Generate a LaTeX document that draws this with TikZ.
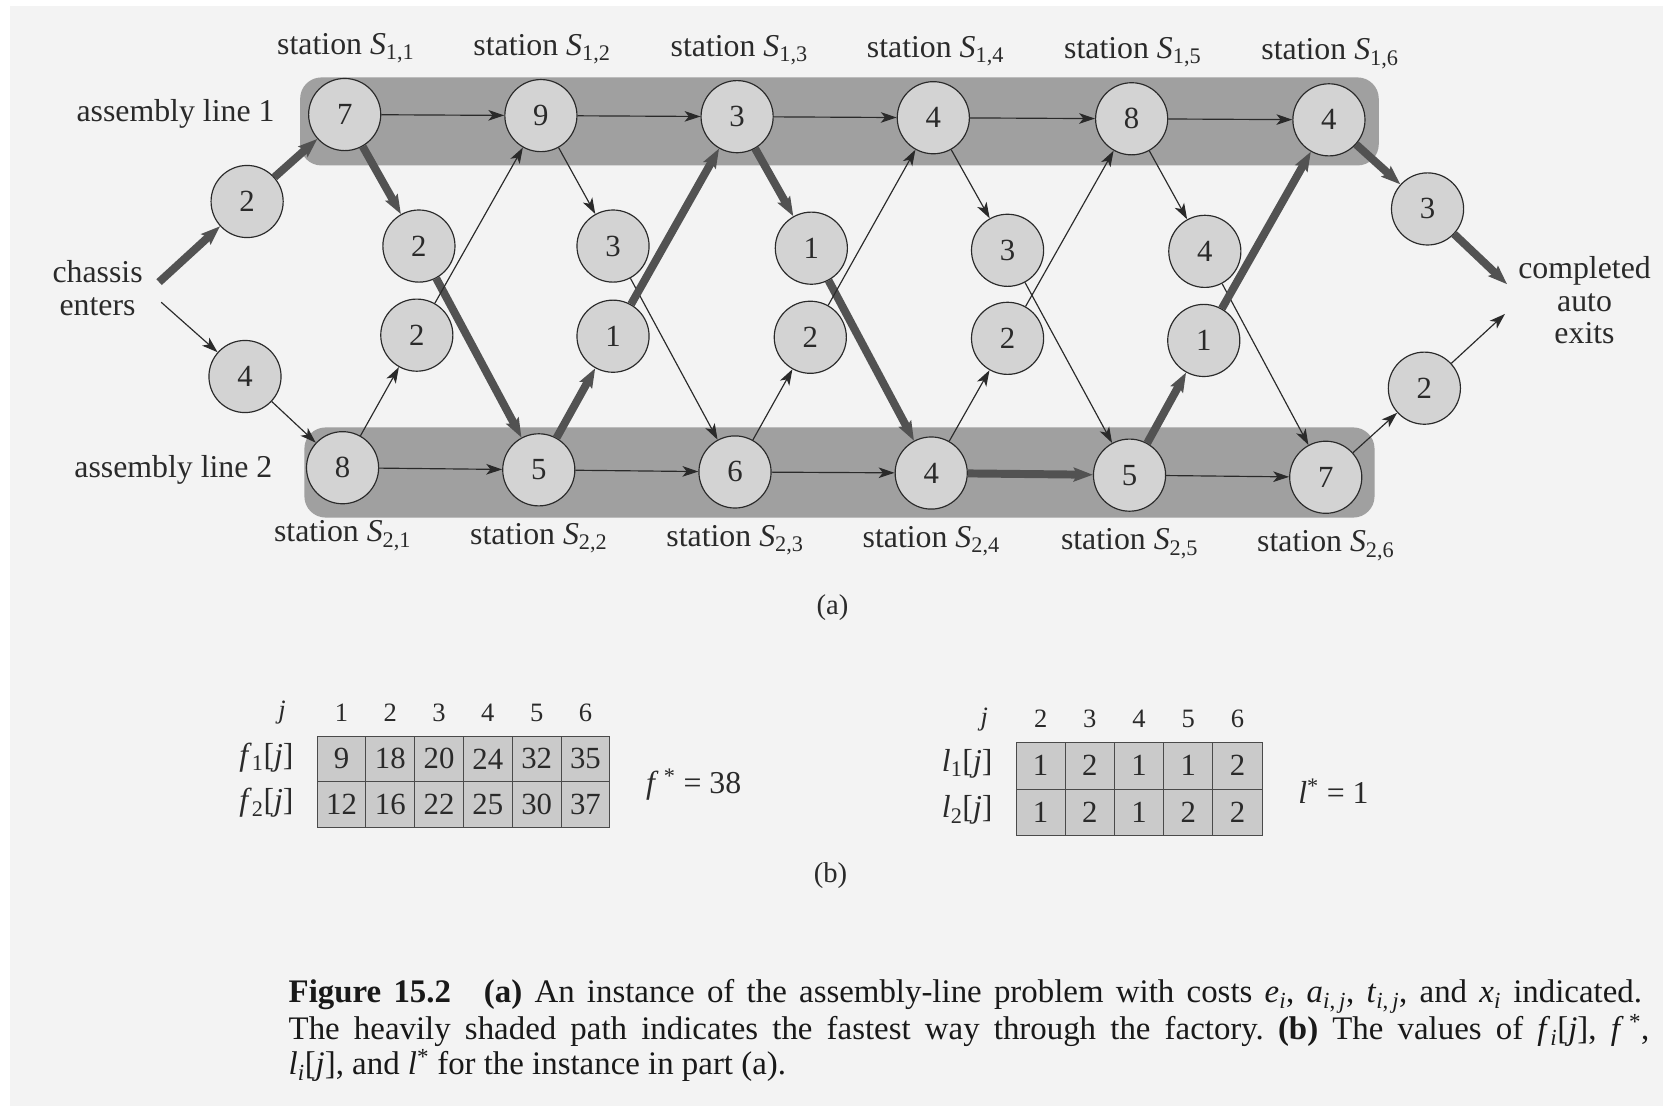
\documentclass[tikz,border=0pt]{standalone}
\usepackage{fontspec}
\setmainfont{Liberation Serif}
\usetikzlibrary{arrows.meta}
\definecolor{bgc}{HTML}{F3F3F3}
\definecolor{bandc}{HTML}{A0A0A0}
\definecolor{nodec}{HTML}{D3D3D3}
\definecolor{inkc}{HTML}{2A2A2A}
\definecolor{cellc}{HTML}{CACACA}
\newcommand{\myfs}[1]{\fontsize{#1}{#1}\selectfont}
\newcommand{\stlabel}[1]{station \textit{S}\textsubscript{#1}}
\newcommand{\vsub}[2]{\textit{#1}\textsubscript{#2}}
\frenchspacing
\begin{document}
\begin{tikzpicture}[x=1pt,y=-1pt,
  stn/.style={circle,draw=inkc,line width=1.1pt,fill=nodec,minimum size=68pt,inner sep=0pt,font=\myfs{29},text=inkc},
  thinarrow/.style={draw=inkc,line width=1.1pt,-{Stealth[length=15pt,width=10pt,inset=4pt]}},
  heavyarrow/.style={draw=black!68,line width=7.5pt,-{Stealth[length=18pt,width=13pt,inset=3pt]}},
  lbl/.style={font=\myfs{30},text=inkc,inner sep=0pt},
  hdr/.style={font=\myfs{25},text=inkc,inner sep=0pt},
  cell/.style={draw=inkc!85,fill=cellc,line width=1pt,minimum width=46pt,minimum height=43pt,inner sep=0pt,font=\myfs{29},text=inkc},
  capt/.style={font=\myfs{31},text=black!90,inner sep=0pt},
]
\useasboundingbox (0,0) rectangle (1568,1043);
\fill[white] (0,0) rectangle (1568,1043);
\fill[bgc] (9,6) rectangle (1568,1043);
% bands
\fill[bandc,rounded corners=20pt] (283,73) rectangle (1300,156);
\fill[bandc,rounded corners=20pt] (287,403) rectangle (1296,488);
% nodes
\foreach \n/\px/\py/\v in {S11/325/108/7,S12/510/109/9,S13/695/110/3,S14/880/111/4,S15/1067/112/8,S16/1253/113/4,
  S21/323/441/8,S22/508/443/5,S23/693/445/6,S24/878/446/4,S25/1065/448/5,S26/1250/450/7,
  T11/395/232/2,T12/578/232/3,T13/765/234/1,T14/950/236/3,T15/1136/237/4,
  T21/393/316/2,T22/578/317/1,T23/764/318/2,T24/950/319/2,T25/1135/321/1,
  E1/233/190/2,E2/231/355/4,X1/1346/197/3,X2/1343/366/2}
  \node[stn] (\n) at (\px,\py) {\v};
\coordinate (inA) at (150,266);
\coordinate (inB) at (152,285);
\coordinate (outA) at (1421,268);
\coordinate (outB) at (1419,296);
% thin arrows
\draw[thinarrow] (inB) -- (E2);
\draw[thinarrow] (E2) -- (S21);
\draw[thinarrow] (S11) -- (S12);
\draw[thinarrow] (S12) -- (S13);
\draw[thinarrow] (S13) -- (S14);
\draw[thinarrow] (S14) -- (S15);
\draw[thinarrow] (S15) -- (S16);
\draw[thinarrow] (S21) -- (S22);
\draw[thinarrow] (S22) -- (S23);
\draw[thinarrow] (S23) -- (S24);
\draw[thinarrow] (S25) -- (S26);
\draw[thinarrow] (S12) -- (T12);
\draw[thinarrow] (T12) -- (S23);
\draw[thinarrow] (S14) -- (T14);
\draw[thinarrow] (T14) -- (S25);
\draw[thinarrow] (S15) -- (T15);
\draw[thinarrow] (T15) -- (S26);
\draw[thinarrow] (S26) -- (X2);
\draw[thinarrow] (X2) -- (outB);
% heavy path
\draw[heavyarrow] (inA) -- (E1);
\draw[heavyarrow] (E1) -- (S11);
\draw[heavyarrow] (S11) -- (T11);
\draw[heavyarrow] (T11) -- (S22);
\draw[heavyarrow] (S22) -- (T22);
\draw[heavyarrow] (T22) -- (S13);
\draw[heavyarrow] (S13) -- (T13);
\draw[heavyarrow] (T13) -- (S24);
\draw[heavyarrow] (S24) -- (S25);
\draw[heavyarrow] (S25) -- (T25);
\draw[heavyarrow] (T25) -- (S16);
\draw[heavyarrow] (S16) -- (X1);
\draw[heavyarrow] (X1) -- (outA);
% thin arrows drawn over heavy path
\draw[thinarrow] (S21) -- (T21);
\draw[thinarrow] (T21) -- (S12);
\draw[thinarrow] (S23) -- (T23);
\draw[thinarrow] (T23) -- (S14);
\draw[thinarrow] (S24) -- (T24);
\draw[thinarrow] (T24) -- (S15);
% labels
\foreach \j/\px/\py in {1/326/51,2/511/52,3/697/53,4/882/54,5/1068/55,6/1254/56}
  \node[lbl,anchor=base] (top\j) at (\px,\py) {\stlabel{1,\j}};
\foreach \j/\px/\py in {1/323/511,2/508/513,3/693/515,4/878/516,5/1065/518,6/1250/520}
  \node[lbl,anchor=base] (bot\j) at (\px,\py) {\stlabel{2,\j}};
\node[lbl,anchor=base east] (line1) at (259,115) {assembly line 1};
\node[lbl,anchor=base east] (line2) at (257,450) {assembly line 2};
\node[lbl,align=center] (enter) at (92,272) {chassis\\[1pt]enters};
\node[lbl,align=center] (exit) at (1494,283) {completed\\[1pt]auto\\[1pt]exits};
\node[lbl,font=\myfs{27}] (parta) at (785,573) {(a)};
\node[lbl,font=\myfs{27}] (partb) at (783,826) {(b)};
% f table
\node[hdr] (fj) at (266,672) {\textit{j}};
\foreach \i in {1,...,6} \node[hdr] (fh\i) at ({276+46*\i},672) {\i};
\foreach \v [count=\i] in {9,18,20,24,32,35} \node[cell] (fa\i) at ({276+46*\i},715.5) {\v};
\foreach \v [count=\i] in {12,16,22,25,30,37} \node[cell] (fb\i) at ({276+46*\i},758.5) {\v};
\node[lbl,anchor=east] (fr1) at (277,714) {\vsub{f}{1}[\textit{j}]};
\node[lbl,anchor=east] (fr2) at (277,757) {\vsub{f}{2}[\textit{j}]};
\node[lbl,anchor=west] (fstar) at (609,740) {\textit{f}\,\textsuperscript{*} = 38};
% l table
\node[hdr] (lj) at (928,678) {\textit{j}};
\foreach \h [count=\i] in {2,...,6} \node[hdr] (lh\i) at ({934.8+46.4*\i},678) {\h};
\foreach \v [count=\i] in {1,2,1,1,2} \node[cell,minimum width=46.4pt,minimum height=44pt] (la\i) at ({934.8+46.4*\i},722) {\v};
\foreach \v [count=\i] in {1,2,1,2,2} \node[cell,minimum width=46.4pt,minimum height=44pt] (lb\i) at ({934.8+46.4*\i},766) {\v};
\node[lbl,anchor=east] (lr1) at (936,720) {\vsub{l}{1}[\textit{j}]};
\node[lbl,anchor=east] (lr2) at (936,764) {\vsub{l}{2}[\textit{j}]};
\node[lbl,anchor=west] (lstar) at (1224,746) {\textit{l}\textsuperscript{*} = 1};
% caption
\node[capt,anchor=base west] (cap1) at (272,945) {\makebox[1276pt][s]{\textbf{Figure 15.2}\hspace{1em}\textbf{(a)} An instance of the assembly-line problem with costs \vsub{e}{\textit{i}}, \vsub{a}{\textit{i},\,\textit{j}}, \vsub{t}{\textit{i},\,\textit{j}}, and \vsub{x}{\textit{i}} indicated.}};
\node[capt,anchor=base west] (cap2) at (272,980) {\makebox[1283pt][s]{The heavily shaded path indicates the fastest way through the factory. \textbf{(b)} The values of \vsub{f}{\textit{i}}[\textit{j}], \textit{f}\,\textsuperscript{*},}};
\node[capt,anchor=base west] (cap3) at (272,1013) {\vsub{l}{\textit{i}}[\textit{j}], and \textit{l}\textsuperscript{*} for the instance in part (a).};
\end{tikzpicture}
\end{document}
